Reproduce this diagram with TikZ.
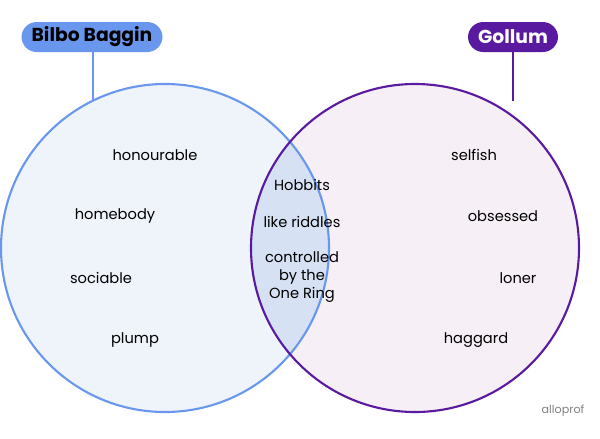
\documentclass[tikz,border=0pt]{standalone}
\usepackage{fontspec}
\setmainfont{Poppins}
\definecolor{bstroke}{HTML}{6A97EE}
\definecolor{bfill}{HTML}{EFF3FA}
\definecolor{pstroke}{HTML}{5A1AA0}
\definecolor{pfill}{HTML}{F6F0F6}
\definecolor{ifill}{HTML}{D6E1F3}
\definecolor{bbox}{HTML}{6A97EE}
\begin{document}
\begin{tikzpicture}[x=0.03cm,y=-0.03cm,
  lbl/.style={font=\fontsize{12.5}{15.5}\selectfont,align=center},
  tag/.style={rounded corners=13pt,minimum height=30*0.03cm,font=\fontsize{16}{18}\selectfont\bfseries,inner xsep=4pt}]
\useasboundingbox (0,0) rectangle (600,438);
\fill[bfill] (165,248) circle (164);
\fill[pfill] (415,248) circle (164);
\begin{scope}
\clip (165,248) circle (164);
\fill[ifill] (415,248) circle (164);
\end{scope}
\draw[bstroke,line width=1.8pt] (165,248) circle (164);
\draw[pstroke,line width=1.8pt] (415,248) circle (164);
\node[tag,fill=bbox,minimum width=141*0.03cm] (bb) at (92,37) {Bilbo Baggin};
\node[tag,fill=pstroke,text=white,minimum width=90*0.03cm] (go) at (513,37) {Gollum};
\coordinate (bt) at (93,101);
\coordinate (gt) at (513,101);
\draw[bstroke,line width=1.8pt] (bb.south -| bt) -- (bt);
\draw[pstroke,line width=1.8pt] (go.south) -- (gt);
\node[lbl] (a1) at (155,155) {honourable};
\node[lbl] (a2) at (115,216) {homebody};
\node[lbl] (a3) at (101,278) {sociable};
\node[lbl] (a4) at (135,340) {plump};
\node[lbl] (c1) at (302,185) {Hobbits};
\node[lbl] (c2) at (302,222) {like riddles};
\node[lbl] (c3) at (302,277) {controlled\\by the\\One Ring};
\node[lbl] (b1) at (474,155) {selfish};
\node[lbl] (b2) at (503,216) {obsessed};
\node[lbl] (b3) at (518,278) {loner};
\node[lbl] (b4) at (476,340) {haggard};
\node[font=\fontsize{9.5}{10}\selectfont,text=gray] (logo) at (563,411) {alloprof};
\end{tikzpicture}
\end{document}
